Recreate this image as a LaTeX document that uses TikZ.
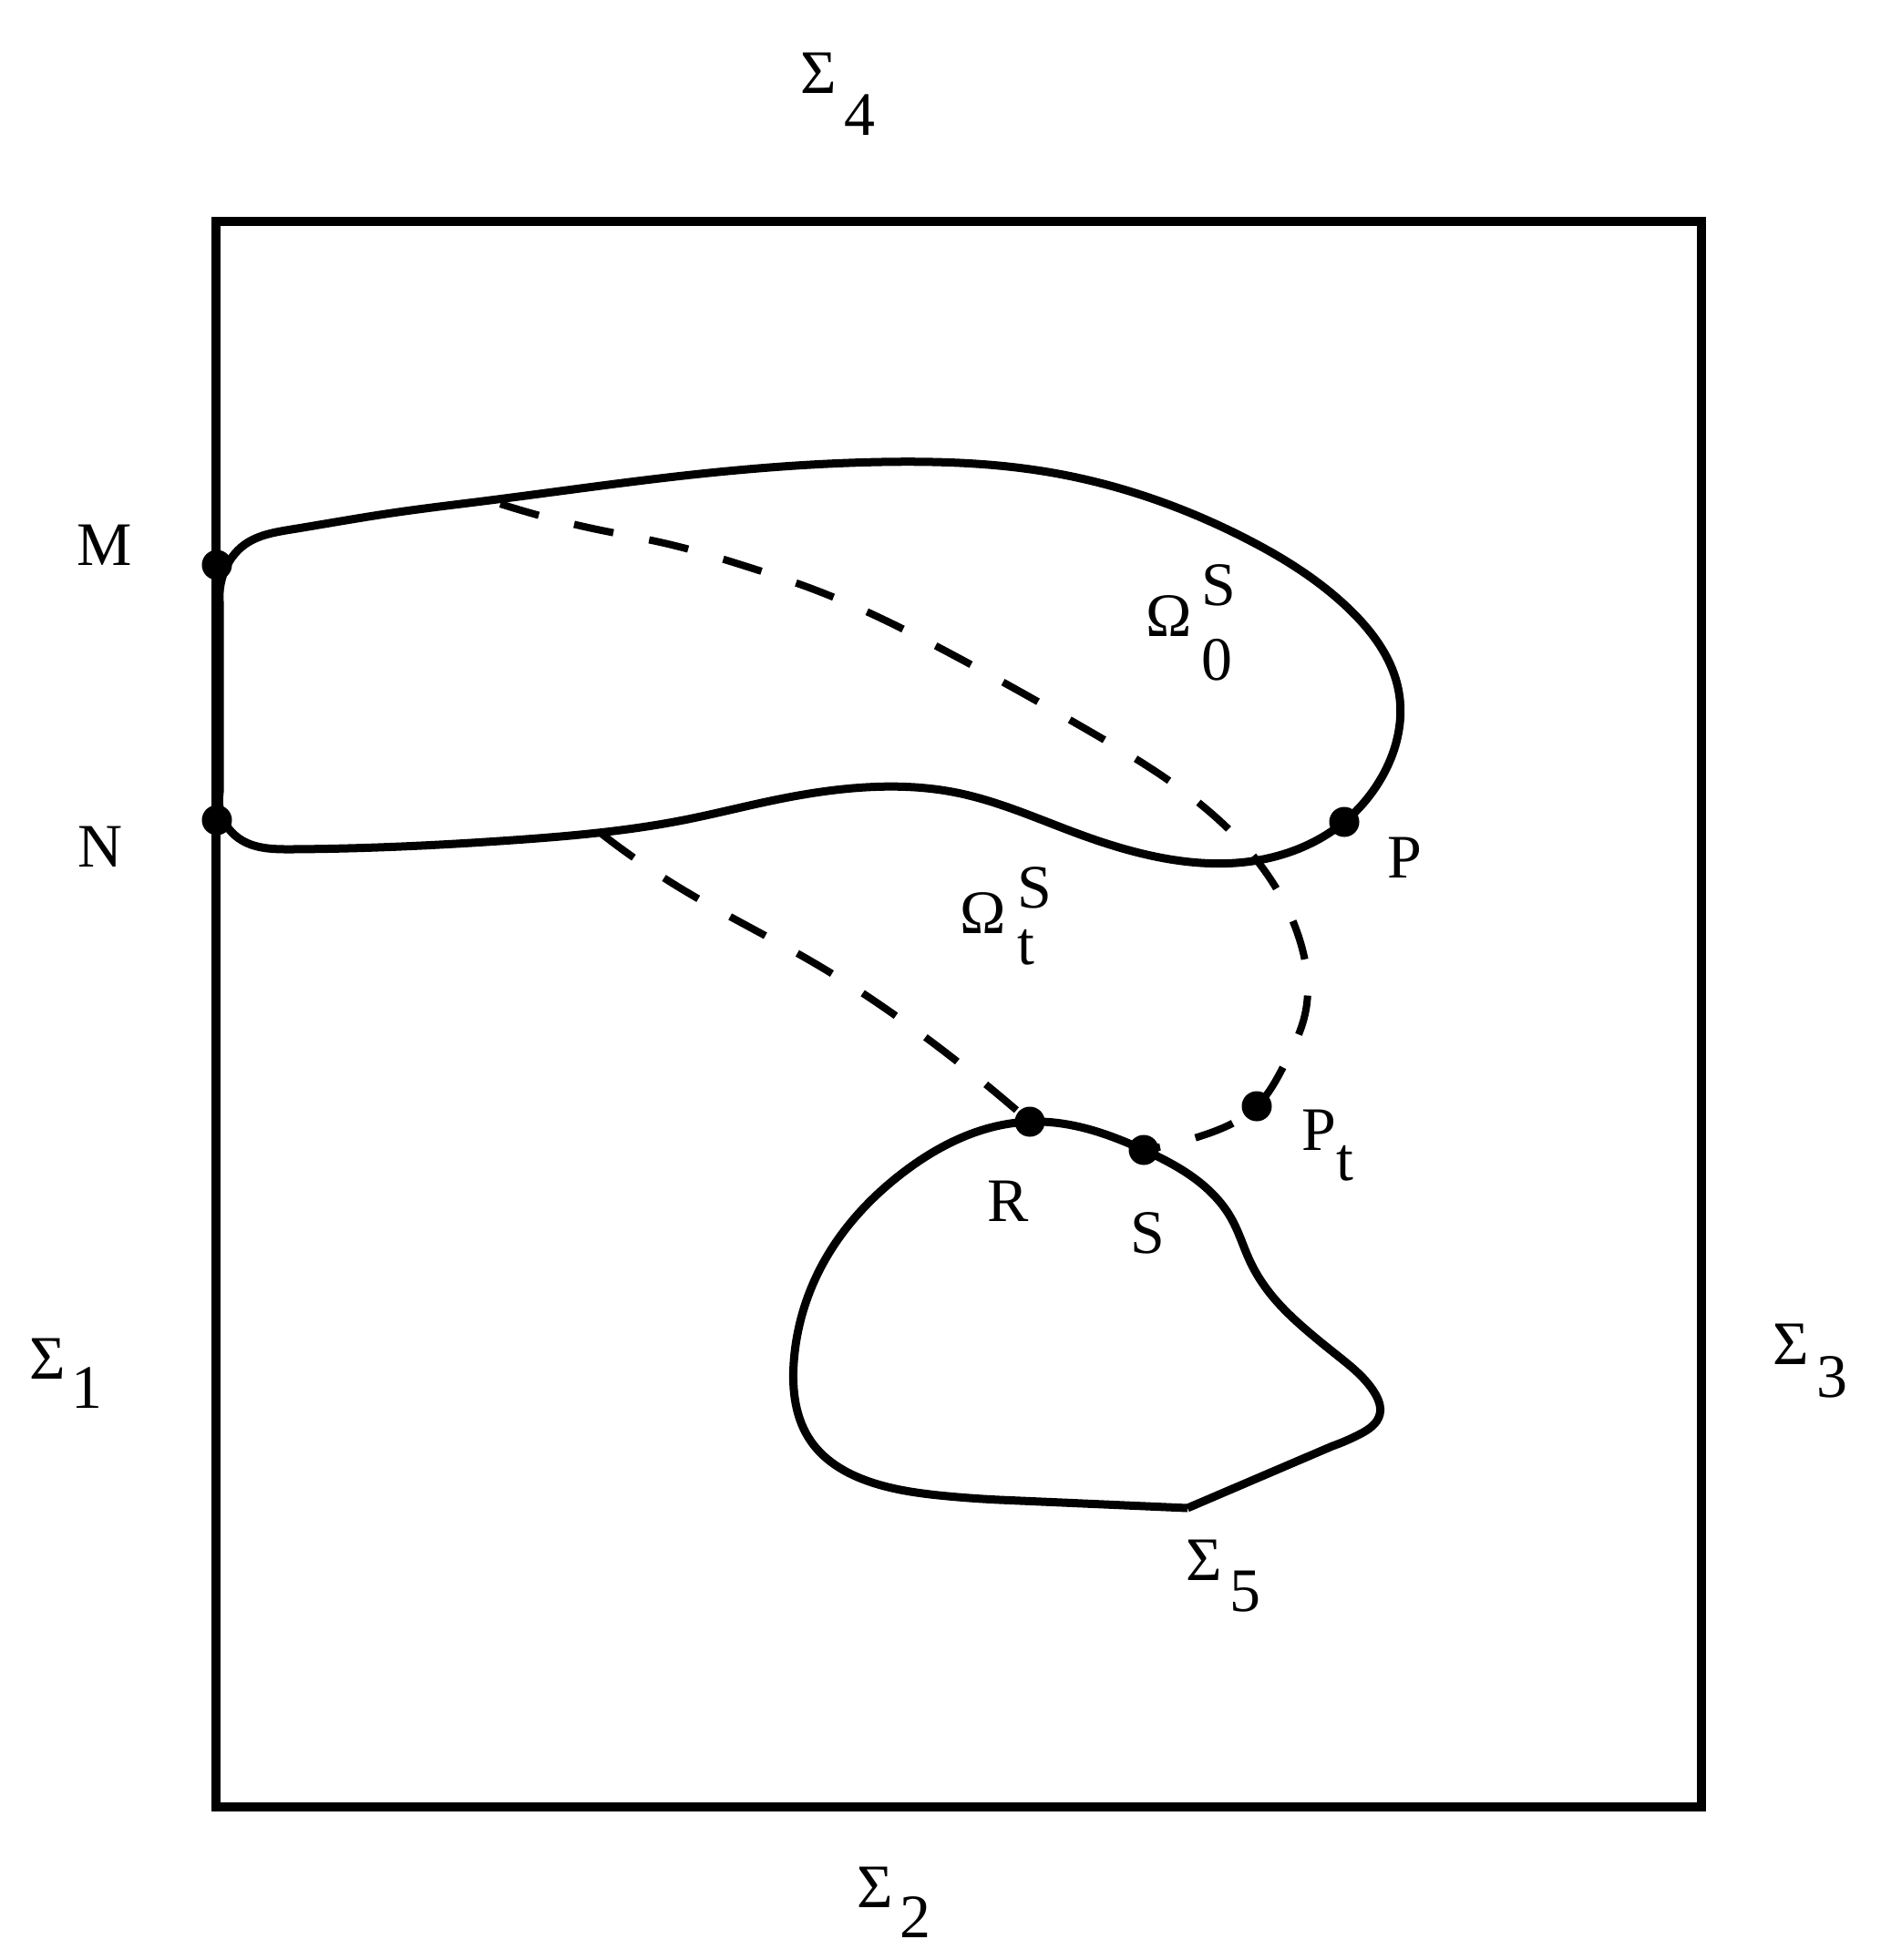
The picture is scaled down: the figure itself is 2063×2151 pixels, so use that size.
\documentclass[tikz,border=0pt]{standalone}
\usepackage{fontspec}
\setmainfont{Liberation Serif}
\usetikzlibrary{hobby}
\begin{document}
\begin{tikzpicture}[x=0.01cm,y=-0.01cm,
  frame/.style={line width=0.1cm},
  curve/.style={line width=0.09cm, line join=round, use Hobby shortcut},
  dsh/.style={line width=0.08cm, dash pattern=on 0.44cm off 0.40cm, use Hobby shortcut},
  pt/.style={circle, fill=black, inner sep=0pt, minimum size=0.33cm},
  lbl/.style={inner sep=0pt, anchor=base west, font=\fontsize{19.3pt}{23pt}\selectfont}]
\useasboundingbox (0,0) rectangle (2063,2151);
\fill[white] (0,0) rectangle (2063,2151);
% outer box
\draw[frame] (237,243) rectangle (1867,1983);
% point positions
\coordinate (cM) at (238,620);
\coordinate (cN) at (238,900);
\coordinate (cP) at (1475,902);
\coordinate (cPt) at (1379,1214);
\coordinate (cR) at (1130,1231);
\coordinate (cS) at (1255,1262);
\coordinate (d1) at (549,553);
\coordinate (d2) at (660,915);
% big region Omega_0^S
\draw[curve] (241,870) -- (241,660) .. (247,625) .. (268,598) .. (320,581)
 .. (430,563) .. (530,550) .. (750,522) .. (967,507) .. (1150,518) .. (1367,591) .. (1480,668)
 .. (1535,760) .. (1515,855) .. (cP) .. (1367,946) .. (1290,944) .. (1183,915)
 .. (1050,870) .. (950,864) .. (850,878) .. (750,900) .. (563,922) .. (320,932)
 .. (262,920) .. (241,870);
% small region Sigma_5
\draw[curve] (1303,1655) -- (1462,1587) .. (1492,1574) .. (1514,1552) .. (1508,1528)
 .. (1468,1488) .. (1427,1454) .. (1399,1426) .. (1372,1385) .. (1351,1337)
 .. (1317,1298) .. (cS) .. (1190,1238) .. (cR) .. (988,1289)
 .. (905,1383) .. (871,1495) .. (890,1582) .. (960,1628) .. (1040,1642) .. (1097,1646) -- (1303,1655);
% dashed curves
\draw[dsh] (d1) .. (655,581) .. (733,597) .. (817,621) .. (896,648) .. (1048,720)
 .. (1193,801) .. (1332,895) .. (1388,956) .. (1426,1031) .. (1432,1113)
 .. (1410,1167) .. (cPt) .. (1320,1246) .. (cS);
\draw[dsh] (d2) .. (747,975) .. (892,1056) .. (1031,1150) .. (cR);
% dots
\node[pt] (M) at (cM) {};
\node[pt] (N) at (cN) {};
\node[pt] (P) at (cP) {};
\node[pt] (Pt) at (cPt) {};
\node[pt] (R) at (cR) {};
\node[pt] (S) at (cS) {};
% labels
\node[lbl] (lM) at (84,620) {M};
\node[lbl] (lN) at (85,951) {N};
\node[lbl] (lP) at (1522,963) {P};
\node[lbl] (lPt) at (1428,1262) {P\raisebox{-0.33cm}{t}};
\node[lbl] (lR) at (1083,1340) {R};
\node[lbl] (lS) at (1240,1375) {S};
\node[lbl] (lO0) at (1257,698) {Ω\kern0.1cm\rlap{\raisebox{0.33cm}{S}}\raisebox{-0.48cm}{0}};
\node[lbl] (lOt) at (1053,1024) {Ω\kern0.12cm\rlap{\raisebox{0.27cm}{S}}\raisebox{-0.34cm}{t}};
\node[lbl] (s4) at (878,102) {Σ\kern0.08cm\raisebox{-0.46cm}{4}};
\node[lbl] (s1) at (32,1513) {Σ\kern0.06cm\raisebox{-0.32cm}{1}};
\node[lbl] (s3) at (1945,1497) {Σ\kern0.08cm\raisebox{-0.36cm}{3}};
\node[lbl] (s2) at (940,2093) {Σ\kern0.07cm\raisebox{-0.33cm}{2}};
\node[lbl] (s5) at (1301,1734) {Σ\kern0.08cm\raisebox{-0.34cm}{5}};
\end{tikzpicture}
\end{document}
